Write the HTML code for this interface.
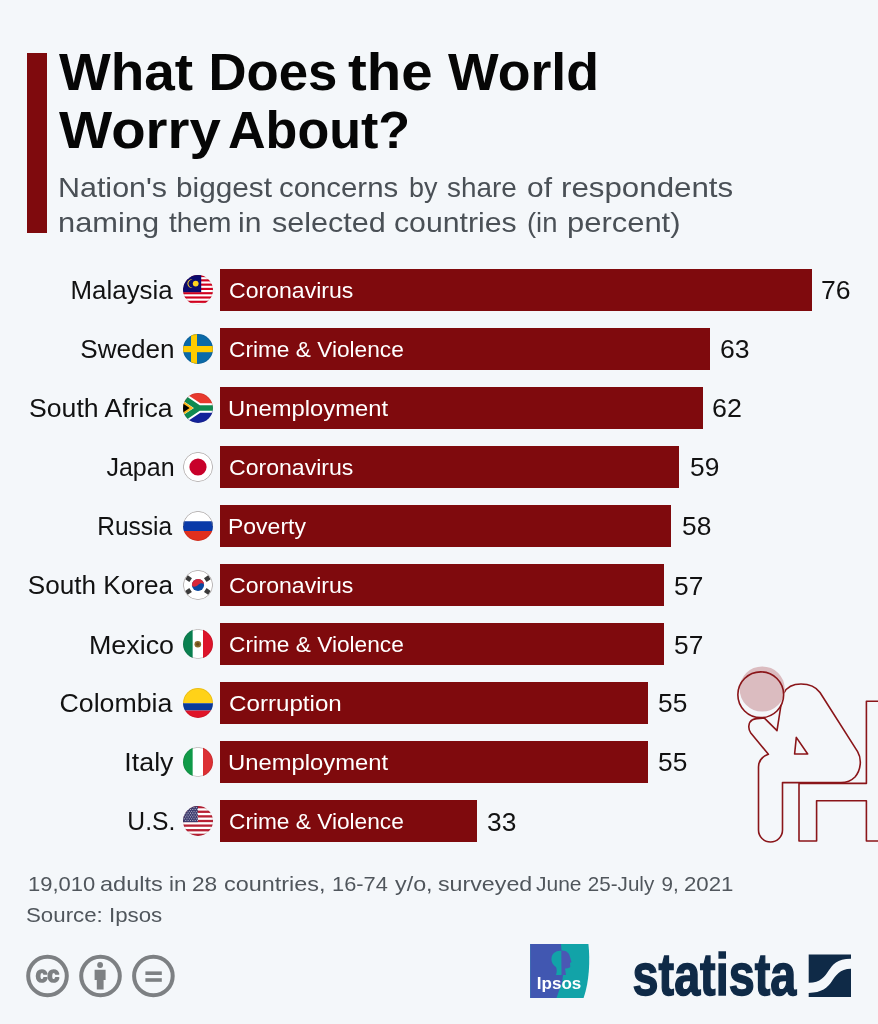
<!DOCTYPE html>
<html lang="en">
<head>
<meta charset="utf-8">
<title>What Does the World Worry About?</title>
<style>
html,body{margin:0;padding:0;}
body{width:878px;height:1024px;background:#f4f7fa;font-family:"Liberation Sans", "DejaVu Sans", sans-serif;overflow:hidden;}
#page{position:relative;width:878px;height:1024px;background:#f4f7fa;overflow:hidden;}
.abs{position:absolute;margin:0;padding:0;white-space:nowrap;line-height:1;font-weight:400;}
.t{display:inline-block;white-space:nowrap;line-height:1;}
.ol{transform-origin:0 0;}
.or{transform-origin:100% 0;}
.accent{position:absolute;left:27px;top:53px;width:20px;height:179.5px;background:#7f0a0d;}
h1{margin:0;font-size:52px;}
.h1l{font-weight:700;color:#060606;}
.sub{color:#4a5056;}
.subp{margin:0;}
.bar{position:absolute;left:220.0px;height:42.0px;background:#7f0a0d;}
.labt{color:#121212;}
.catt{color:#fff;}
.valt{color:#121212;}
.flag{position:absolute;left:182.8px;width:30px;height:30px;border-radius:50%;overflow:hidden;}
.flag svg{display:block;}
.notet{color:#50565c;}
svg{position:absolute;overflow:visible;}

</style>
</head>
<body>
<div id="page">
<div class="accent"></div>
<h1 style="margin:0">
<span class="abs ol h1l" id="h1a0" style="left:59.06px;top:45.61px;font-size:52.7px;transform:scaleX(1.0417);">What</span>
<span class="abs ol h1l" id="h1a1" style="left:208.50px;top:45.61px;font-size:52.7px;transform:scaleX(1.0000);">Does</span>
<span class="abs ol h1l" id="h1a2" style="left:347.82px;top:45.61px;font-size:52.7px;transform:scaleX(1.0684);">the</span>
<span class="abs ol h1l" id="h1a3" style="left:447.85px;top:45.61px;font-size:52.7px;transform:scaleX(1.0186);">World</span>
<span class="abs ol h1l" id="h1b0" style="left:59.06px;top:104.01px;font-size:52.7px;transform:scaleX(1.0691);">Worry</span>
<span class="abs ol h1l" id="h1b1" style="left:227.92px;top:104.01px;font-size:52.7px;transform:scaleX(0.9878);">About?</span>
</h1>
<p class="subp">
<span class="abs ol sub" id="s1w0" style="left:57.93px;top:173.04px;font-size:28.3px;transform:scaleX(1.0758);">Nation&#39;s</span>
<span class="abs ol sub" id="s1w1" style="left:175.95px;top:173.04px;font-size:28.3px;transform:scaleX(1.0521);">biggest</span>
<span class="abs ol sub" id="s1w2" style="left:279.26px;top:173.04px;font-size:28.3px;transform:scaleX(1.0377);">concerns</span>
<span class="abs ol sub" id="s1w3" style="left:409.08px;top:173.04px;font-size:28.3px;transform:scaleX(0.9518);">by</span>
<span class="abs ol sub" id="s1w4" style="left:446.81px;top:173.04px;font-size:28.3px;transform:scaleX(0.9840);">share</span>
<span class="abs ol sub" id="s1w5" style="left:527.24px;top:173.04px;font-size:28.3px;transform:scaleX(1.0578);">of</span>
<span class="abs ol sub" id="s1w6" style="left:561.14px;top:173.04px;font-size:28.3px;transform:scaleX(1.1057);">respondents</span>
<span class="abs ol sub" id="s2w0" style="left:58.24px;top:207.84px;font-size:28.3px;transform:scaleX(1.0891);">naming</span>
<span class="abs ol sub" id="s2w1" style="left:168.80px;top:207.84px;font-size:28.3px;transform:scaleX(0.9926);">them</span>
<span class="abs ol sub" id="s2w2" style="left:238.29px;top:207.84px;font-size:28.3px;transform:scaleX(1.0595);">in</span>
<span class="abs ol sub" id="s2w3" style="left:271.59px;top:207.84px;font-size:28.3px;transform:scaleX(1.0793);">selected</span>
<span class="abs ol sub" id="s2w4" style="left:394.12px;top:207.84px;font-size:28.3px;transform:scaleX(1.0687);">countries</span>
<span class="abs ol sub" id="s2w5" style="left:527.10px;top:207.84px;font-size:28.3px;transform:scaleX(0.9679);">(in</span>
<span class="abs ol sub" id="s2w6" style="left:566.52px;top:207.84px;font-size:28.3px;transform:scaleX(1.0933);">percent)</span>
</p>
<div id="chart">
<div class="row">
<span class="abs or labt" id="lab0" style="right:705.30px;top:278.38px;font-size:25.9px;transform:scaleX(1.0000);">Malaysia</span>
<div class="flag" style="top:274.80px"><svg width="30" height="30" viewBox="0 0 30 30"><rect x="0" y="0" width="30" height="30" fill="#fff"/>
<g fill="#d2001e"><rect x="0" y="0.000" width="30" height="2.143"/><rect x="0" y="4.286" width="30" height="2.143"/><rect x="0" y="8.571" width="30" height="2.143"/><rect x="0" y="12.857" width="30" height="2.143"/><rect x="0" y="17.143" width="30" height="2.143"/><rect x="0" y="21.429" width="30" height="2.143"/><rect x="0" y="25.714" width="30" height="2.143"/></g>
<rect x="0" y="0" width="18.2" height="17.14" fill="#0a0a6e"/>
<path d="M9.6 4.4a4.3 4.3 0 1 0 0 8.4a3.3 3.3 0 1 1 0-8.4z" fill="#ffd21e"/>
<circle cx="12.7" cy="8.6" r="2.9" fill="#ffd21e"/><circle cx="15" cy="15" r="14.7" fill="none" stroke="#402020" stroke-opacity=".22" stroke-width=".6"/></svg></div>
<div class="bar" style="top:268.80px;width:591.58px"></div>
<span class="abs ol catt" id="cat0" style="left:228.89px;top:278.62px;font-size:22.8px;transform:scaleX(1.0116);">Coronavirus</span>
<span class="abs ol valt" id="val0" style="left:821.21px;top:278.38px;font-size:25.9px;transform:scaleX(1.0264);">76</span>
</div>
<div class="row">
<span class="abs or labt" id="lab1" style="right:703.44px;top:337.22px;font-size:25.9px;transform:scaleX(1.0083);">Sweden</span>
<div class="flag" style="top:333.83px"><svg width="30" height="30" viewBox="0 0 30 30"><rect width="30" height="30" fill="#0a6aa8"/>
<rect x="8" y="0" width="6" height="30" fill="#fecc00"/><rect x="0" y="12" width="30" height="6.2" fill="#fecc00"/><circle cx="15" cy="15" r="14.7" fill="none" stroke="#402020" stroke-opacity=".22" stroke-width=".6"/></svg></div>
<div class="bar" style="top:327.83px;width:490.39px"></div>
<span class="abs ol catt" id="cat1" style="left:228.91px;top:337.65px;font-size:22.8px;transform:scaleX(0.9948);">Crime &amp; Violence</span>
<span class="abs ol valt" id="val1" style="left:720.11px;top:337.22px;font-size:25.9px;transform:scaleX(1.0264);">63</span>
</div>
<div class="row">
<span class="abs or labt" id="lab2" style="right:705.20px;top:396.25px;font-size:25.9px;transform:scaleX(1.0282);">South Africa</span>
<div class="flag" style="top:392.86px"><svg width="30" height="30" viewBox="0 0 30 30"><rect width="30" height="15" fill="#e8392e"/><rect y="15" width="30" height="15" fill="#12229a"/>
<path d="M-6.7 0L15.8 15L-6.7 30M15.8 15H32" fill="none" stroke="#fff" stroke-width="9.6"/>
<path d="M-6.7 0L15.8 15L-6.7 30M15.8 15H32" fill="none" stroke="#0f8a50" stroke-width="5.6"/>
<path d="M-1 7.4L10.4 15L-1 22.6z" fill="#ffb81a"/>
<path d="M-1 9.93L6.6 15L-1 20.07z" fill="#000"/><circle cx="15" cy="15" r="14.7" fill="none" stroke="#402020" stroke-opacity=".22" stroke-width=".6"/></svg></div>
<div class="bar" style="top:386.86px;width:482.61px"></div>
<span class="abs ol catt" id="cat2" style="left:227.82px;top:396.68px;font-size:22.8px;transform:scaleX(1.0440);">Unemployment</span>
<span class="abs ol valt" id="val2" style="left:712.36px;top:396.25px;font-size:25.9px;transform:scaleX(1.0362);">62</span>
</div>
<div class="row">
<span class="abs or labt" id="lab3" style="right:703.70px;top:455.27px;font-size:25.9px;transform:scaleX(0.9658);">Japan</span>
<div class="flag" style="top:451.89px"><svg width="30" height="30" viewBox="0 0 30 30"><rect width="30" height="30" fill="#fff"/><circle cx="15" cy="15" r="8.6" fill="#c8002a"/>
<circle cx="15" cy="15" r="14.7" fill="none" stroke="#9a9a9a" stroke-width="0.6"/><circle cx="15" cy="15" r="14.7" fill="none" stroke="#402020" stroke-opacity=".22" stroke-width=".6"/></svg></div>
<div class="bar" style="top:445.89px;width:459.26px"></div>
<span class="abs ol catt" id="cat3" style="left:228.89px;top:455.71px;font-size:22.8px;transform:scaleX(1.0116);">Coronavirus</span>
<span class="abs ol valt" id="val3" style="left:689.67px;top:455.27px;font-size:25.9px;transform:scaleX(1.0168);">59</span>
</div>
<div class="row">
<span class="abs or labt" id="lab4" style="right:705.64px;top:513.88px;font-size:25.9px;transform:scaleX(0.9463);">Russia</span>
<div class="flag" style="top:510.92px"><svg width="30" height="30" viewBox="0 0 30 30"><rect width="30" height="10.25" fill="#fff"/><rect y="10.25" width="30" height="9.75" fill="#0a3aa8"/><rect y="20" width="30" height="10" fill="#e0301e"/>
<path d="M0.3 15A14.7 14.7 0 0 1 29.7 15" fill="none" stroke="#9a9a9a" stroke-width="0.6"/><circle cx="15" cy="15" r="14.7" fill="none" stroke="#402020" stroke-opacity=".22" stroke-width=".6"/></svg></div>
<div class="bar" style="top:504.92px;width:451.47px"></div>
<span class="abs ol catt" id="cat4" style="left:228.18px;top:514.74px;font-size:22.8px;transform:scaleX(1.0086);">Poverty</span>
<span class="abs ol valt" id="val4" style="left:681.94px;top:513.88px;font-size:25.9px;transform:scaleX(1.0168);">58</span>
</div>
<div class="row">
<span class="abs or labt" id="lab5" style="right:705.15px;top:573.34px;font-size:25.9px;transform:scaleX(1.0088);">South Korea</span>
<div class="flag" style="top:569.95px"><svg width="30" height="30" viewBox="0 0 30 30"><rect width="30" height="30" fill="#fff"/>
<circle cx="15" cy="15" r="6.1" fill="#0a47a0"/>
<path d="M8.9 15.5A6.1 6.1 0 0 1 21.1 14.5C19.6 12.6 17 13.2 15 15S10.4 17.4 8.9 15.5z" fill="#d8283a"/>
<g fill="#3a3a3a"><rect x="-2.3" y="-2.5" width="4.6" height="5" transform="translate(5.6 8.65) rotate(-56)"/>
<rect x="-2.3" y="-2.5" width="4.6" height="5" transform="translate(24.35 8.65) rotate(56)"/>
<rect x="-2.3" y="-2.5" width="4.6" height="5" transform="translate(5.5 21.4) rotate(56)"/>
<rect x="-2.3" y="-2.5" width="4.6" height="5" transform="translate(24.35 21.4) rotate(-56)"/></g>
<circle cx="15" cy="15" r="14.7" fill="none" stroke="#9a9a9a" stroke-width="0.6"/><circle cx="15" cy="15" r="14.7" fill="none" stroke="#402020" stroke-opacity=".22" stroke-width=".6"/></svg></div>
<div class="bar" style="top:563.95px;width:443.69px"></div>
<span class="abs ol catt" id="cat5" style="left:228.89px;top:573.77px;font-size:22.8px;transform:scaleX(1.0116);">Coronavirus</span>
<span class="abs ol valt" id="val5" style="left:674.01px;top:573.59px;font-size:25.9px;transform:scaleX(1.0168);">57</span>
</div>
<div class="row">
<span class="abs or labt" id="lab6" style="right:704.11px;top:632.78px;font-size:25.9px;transform:scaleX(1.0367);">Mexico</span>
<div class="flag" style="top:628.98px"><svg width="30" height="30" viewBox="0 0 30 30"><rect width="9.8" height="30" fill="#0a8050"/><rect x="9.8" width="10.2" height="30" fill="#fff"/><rect x="20" width="10" height="30" fill="#dc142a"/>
<circle cx="14.8" cy="15.2" r="3.3" fill="#8a6a2a"/><circle cx="14.8" cy="15.2" r="1.6" fill="#6a4a1a"/>
<path d="M9.8 1.2A14.7 14.7 0 0 1 20 1.2M9.8 28.8A14.7 14.7 0 0 0 20 28.8" fill="none" stroke="#aaa" stroke-width="0.5"/><circle cx="15" cy="15" r="14.7" fill="none" stroke="#402020" stroke-opacity=".22" stroke-width=".6"/></svg></div>
<div class="bar" style="top:622.98px;width:443.69px"></div>
<span class="abs ol catt" id="cat6" style="left:228.91px;top:632.80px;font-size:22.8px;transform:scaleX(0.9948);">Crime &amp; Violence</span>
<span class="abs ol valt" id="val6" style="left:674.01px;top:632.78px;font-size:25.9px;transform:scaleX(1.0168);">57</span>
</div>
<div class="row">
<span class="abs or labt" id="lab7" style="right:705.65px;top:690.69px;font-size:25.9px;transform:scaleX(1.0324);">Colombia</span>
<div class="flag" style="top:688.01px"><svg width="30" height="30" viewBox="0 0 30 30"><rect width="30" height="15.25" fill="#ffd218"/><rect y="15.25" width="30" height="7.3" fill="#0a3a9a"/><rect y="22.55" width="30" height="7.45" fill="#e01428"/><circle cx="15" cy="15" r="14.7" fill="none" stroke="#402020" stroke-opacity=".22" stroke-width=".6"/></svg></div>
<div class="bar" style="top:682.01px;width:428.12px"></div>
<span class="abs ol catt" id="cat7" style="left:228.84px;top:691.83px;font-size:22.8px;transform:scaleX(1.0596);">Corruption</span>
<span class="abs ol valt" id="val7" style="left:657.97px;top:690.69px;font-size:25.9px;transform:scaleX(1.0168);">55</span>
</div>
<div class="row">
<span class="abs or labt" id="lab8" style="right:704.65px;top:750.42px;font-size:25.9px;transform:scaleX(1.0343);">Italy</span>
<div class="flag" style="top:747.04px"><svg width="30" height="30" viewBox="0 0 30 30"><rect width="9.8" height="30" fill="#109a48"/><rect x="9.8" width="10.2" height="30" fill="#fff"/><rect x="20" width="10" height="30" fill="#dc3034"/>
<path d="M9.8 1.2A14.7 14.7 0 0 1 20 1.2M9.8 28.8A14.7 14.7 0 0 0 20 28.8" fill="none" stroke="#aaa" stroke-width="0.5"/><circle cx="15" cy="15" r="14.7" fill="none" stroke="#402020" stroke-opacity=".22" stroke-width=".6"/></svg></div>
<div class="bar" style="top:741.04px;width:428.12px"></div>
<span class="abs ol catt" id="cat8" style="left:227.82px;top:750.86px;font-size:22.8px;transform:scaleX(1.0440);">Unemployment</span>
<span class="abs ol valt" id="val8" style="left:657.97px;top:750.42px;font-size:25.9px;transform:scaleX(1.0168);">55</span>
</div>
<div class="row">
<span class="abs or labt" id="lab9" style="right:702.26px;top:809.45px;font-size:25.9px;transform:scaleX(0.9535);">U.S.</span>
<div class="flag" style="top:806.07px"><svg width="30" height="30" viewBox="0 0 30 30"><rect width="30" height="30" fill="#fff"/><g fill="#b82034"><rect x="0" y="0.000" width="30" height="2.308"/><rect x="0" y="4.615" width="30" height="2.308"/><rect x="0" y="9.231" width="30" height="2.308"/><rect x="0" y="13.846" width="30" height="2.308"/><rect x="0" y="18.462" width="30" height="2.308"/><rect x="0" y="23.077" width="30" height="2.308"/><rect x="0" y="27.692" width="30" height="2.308"/></g>
<rect width="14.8" height="16.15" fill="#3c3b6e"/><g fill="#fff" opacity="0.75"><circle cx="1.60" cy="1.60" r="0.55"/><circle cx="3.95" cy="1.60" r="0.55"/><circle cx="6.30" cy="1.60" r="0.55"/><circle cx="8.65" cy="1.60" r="0.55"/><circle cx="11.00" cy="1.60" r="0.55"/><circle cx="13.35" cy="1.60" r="0.55"/><circle cx="2.77" cy="3.45" r="0.55"/><circle cx="5.12" cy="3.45" r="0.55"/><circle cx="7.47" cy="3.45" r="0.55"/><circle cx="9.82" cy="3.45" r="0.55"/><circle cx="12.17" cy="3.45" r="0.55"/><circle cx="14.52" cy="3.45" r="0.55"/><circle cx="1.60" cy="5.30" r="0.55"/><circle cx="3.95" cy="5.30" r="0.55"/><circle cx="6.30" cy="5.30" r="0.55"/><circle cx="8.65" cy="5.30" r="0.55"/><circle cx="11.00" cy="5.30" r="0.55"/><circle cx="13.35" cy="5.30" r="0.55"/><circle cx="2.77" cy="7.15" r="0.55"/><circle cx="5.12" cy="7.15" r="0.55"/><circle cx="7.47" cy="7.15" r="0.55"/><circle cx="9.82" cy="7.15" r="0.55"/><circle cx="12.17" cy="7.15" r="0.55"/><circle cx="14.52" cy="7.15" r="0.55"/><circle cx="1.60" cy="9.00" r="0.55"/><circle cx="3.95" cy="9.00" r="0.55"/><circle cx="6.30" cy="9.00" r="0.55"/><circle cx="8.65" cy="9.00" r="0.55"/><circle cx="11.00" cy="9.00" r="0.55"/><circle cx="13.35" cy="9.00" r="0.55"/><circle cx="2.77" cy="10.85" r="0.55"/><circle cx="5.12" cy="10.85" r="0.55"/><circle cx="7.47" cy="10.85" r="0.55"/><circle cx="9.82" cy="10.85" r="0.55"/><circle cx="12.17" cy="10.85" r="0.55"/><circle cx="14.52" cy="10.85" r="0.55"/><circle cx="1.60" cy="12.70" r="0.55"/><circle cx="3.95" cy="12.70" r="0.55"/><circle cx="6.30" cy="12.70" r="0.55"/><circle cx="8.65" cy="12.70" r="0.55"/><circle cx="11.00" cy="12.70" r="0.55"/><circle cx="13.35" cy="12.70" r="0.55"/><circle cx="2.77" cy="14.55" r="0.55"/><circle cx="5.12" cy="14.55" r="0.55"/><circle cx="7.47" cy="14.55" r="0.55"/><circle cx="9.82" cy="14.55" r="0.55"/><circle cx="12.17" cy="14.55" r="0.55"/><circle cx="14.52" cy="14.55" r="0.55"/></g><circle cx="15" cy="15" r="14.7" fill="none" stroke="#402020" stroke-opacity=".22" stroke-width=".6"/></svg></div>
<div class="bar" style="top:800.07px;width:256.87px"></div>
<span class="abs ol catt" id="cat9" style="left:228.91px;top:809.89px;font-size:22.8px;transform:scaleX(0.9948);">Crime &amp; Violence</span>
<span class="abs ol valt" id="val9" style="left:487.13px;top:810.09px;font-size:25.9px;transform:scaleX(1.0168);">33</span>
</div>
</div>
<svg id="figure" width="878" height="1024" viewBox="0 0 878 1024" style="left:0;top:0;pointer-events:none" fill="none" stroke="#8a1519" stroke-width="1.6" stroke-linejoin="round">
<path d="M783.8 693C787 687 794 684 801 684C809 684 816 687 820 692.5L857.6 751.6C862 759 861 770 855 777C851 781 847 782.6 841 782.6L782.5 782.6L782.5 830A12 12 0 0 1 758.5 830L758.5 767C758.5 761 762 756.5 768.4 754.3L750.8 732.9C747.5 728.5 748.5 722 752.5 719.8C755 718.3 760 718 764.4 718.1L777 730.6L781 705" fill="#f4f7fa"/>
<path d="M796.3 737.4L794.6 754L807.7 754Z"/>
<path d="M880 701.2H866.4V783.4H799V841H816.6V800.8H866.4V841H880"/>
<circle cx="762.2" cy="689" r="22.6" fill="#dbbcc0" stroke="none"/>
<circle cx="760.75" cy="694.75" r="22.9"/>
</svg>

<p class="subp">
<span class="abs ol notet" id="n1w0" style="left:27.90px;top:873.79px;font-size:20.6px;transform:scaleX(1.0667);">19,010</span>
<span class="abs ol notet" id="n1w1" style="left:100.29px;top:873.79px;font-size:20.6px;transform:scaleX(1.1421);">adults</span>
<span class="abs ol notet" id="n1w2" style="left:169.14px;top:873.79px;font-size:20.6px;transform:scaleX(1.0889);">in</span>
<span class="abs ol notet" id="n1w3" style="left:192.46px;top:873.79px;font-size:20.6px;transform:scaleX(1.1012);">28</span>
<span class="abs ol notet" id="n1w4" style="left:224.15px;top:873.79px;font-size:20.6px;transform:scaleX(1.1366);">countries,</span>
<span class="abs ol notet" id="n1w5" style="left:331.91px;top:873.79px;font-size:20.6px;transform:scaleX(1.0594);">16-74</span>
<span class="abs ol notet" id="n1w6" style="left:395.43px;top:873.79px;font-size:20.6px;transform:scaleX(1.1328);">y/o,</span>
<span class="abs ol notet" id="n1w7" style="left:437.87px;top:873.79px;font-size:20.6px;transform:scaleX(1.1276);">surveyed</span>
<span class="abs ol notet" id="n1w8" style="left:536.04px;top:873.79px;font-size:20.6px;transform:scaleX(1.0184);">June</span>
<span class="abs ol notet" id="n1w9" style="left:587.85px;top:873.79px;font-size:20.6px;transform:scaleX(1.0000);">25-July</span>
<span class="abs ol notet" id="n1w10" style="left:661.50px;top:873.79px;font-size:20.6px;transform:scaleX(1.0000);">9,</span>
<span class="abs ol notet" id="n1w11" style="left:683.92px;top:873.79px;font-size:20.6px;transform:scaleX(1.0795);">2021</span>
</p>
<p class="abs ol notet" id="n2" style="left:26.06px;top:904.59px;font-size:20.6px;transform:scaleX(1.0817);">Source: Ipsos</p>
<svg id="cc" width="160" height="50" viewBox="20 950 160 50" style="left:20px;top:950px" fill="none">
<g stroke="#7d8083" stroke-width="4"><circle cx="47.5" cy="976" r="19.3"/><circle cx="100.5" cy="976" r="19.3"/><circle cx="153.4" cy="976" r="19.3"/></g>
<text x="47.5" y="981.8" font-family="Liberation Sans, sans-serif" font-weight="700" font-size="21.5" fill="#7d8083" stroke="#7d8083" stroke-width="1.7" stroke-linejoin="round" text-anchor="middle" textLength="23.4" lengthAdjust="spacingAndGlyphs">cc</text>
<g fill="#7d8083"><circle cx="100.1" cy="965" r="2.9"/><path d="M94.6 969.8h11v10.2h-2v9.6h-6.8v-9.6h-2.2z"/>
<rect x="145.4" y="971.4" width="16.4" height="3.6"/><rect x="145.4" y="978.2" width="16.4" height="3.6"/></g>
</svg>
<svg id="ipsos" width="62" height="56" viewBox="530 943 62 56" style="left:530px;top:943px">
<path d="M530.2 943.9H588.4C590.2 960 589.4 981 583.6 998H530.2Z" fill="#12a3a8"/>
<path d="M530.2 943.9H561L561.5 951C557 950 552 953 551.5 958C551 962 553 965 556 967C557 969 557 972 556 975L563 975L562 983C560 988 558 993 556.5 998H530.2Z" fill="#4157b1"/>
<path d="M561.3 950.5C566 950 569.5 953 570 957L571.5 962L570 963L570.3 967C569 968.5 566 968.5 565 968.5L566 975H561.5Z" fill="#4a58b4"/>
<text x="536.8" y="989.3" font-family="Liberation Sans, sans-serif" font-weight="700" font-size="17" fill="#fff" textLength="44.5" lengthAdjust="spacingAndGlyphs">Ipsos</text>
</svg>
<svg id="statista" width="230" height="50" viewBox="630 950 230 50" style="left:630px;top:950px">
<text x="632.6" y="995.2" font-family="Liberation Sans, sans-serif" font-weight="700" font-size="59" fill="#0f2a47" stroke="#0f2a47" stroke-width="1.5" textLength="163.6" lengthAdjust="spacingAndGlyphs">statista</text>
<g transform="translate(808.7 954.6)" fill="#0f2a47"><path d="M0 0H42.3V4.1C28 4.1 24 10 20 16S12 28.2 0 28.2Z"/><path d="M42.3 14.1C31 14.1 27 21 23 27S13 38.3 0 38.3V42.3H42.3Z"/></g>
</svg>

</div>
</body>
</html>
